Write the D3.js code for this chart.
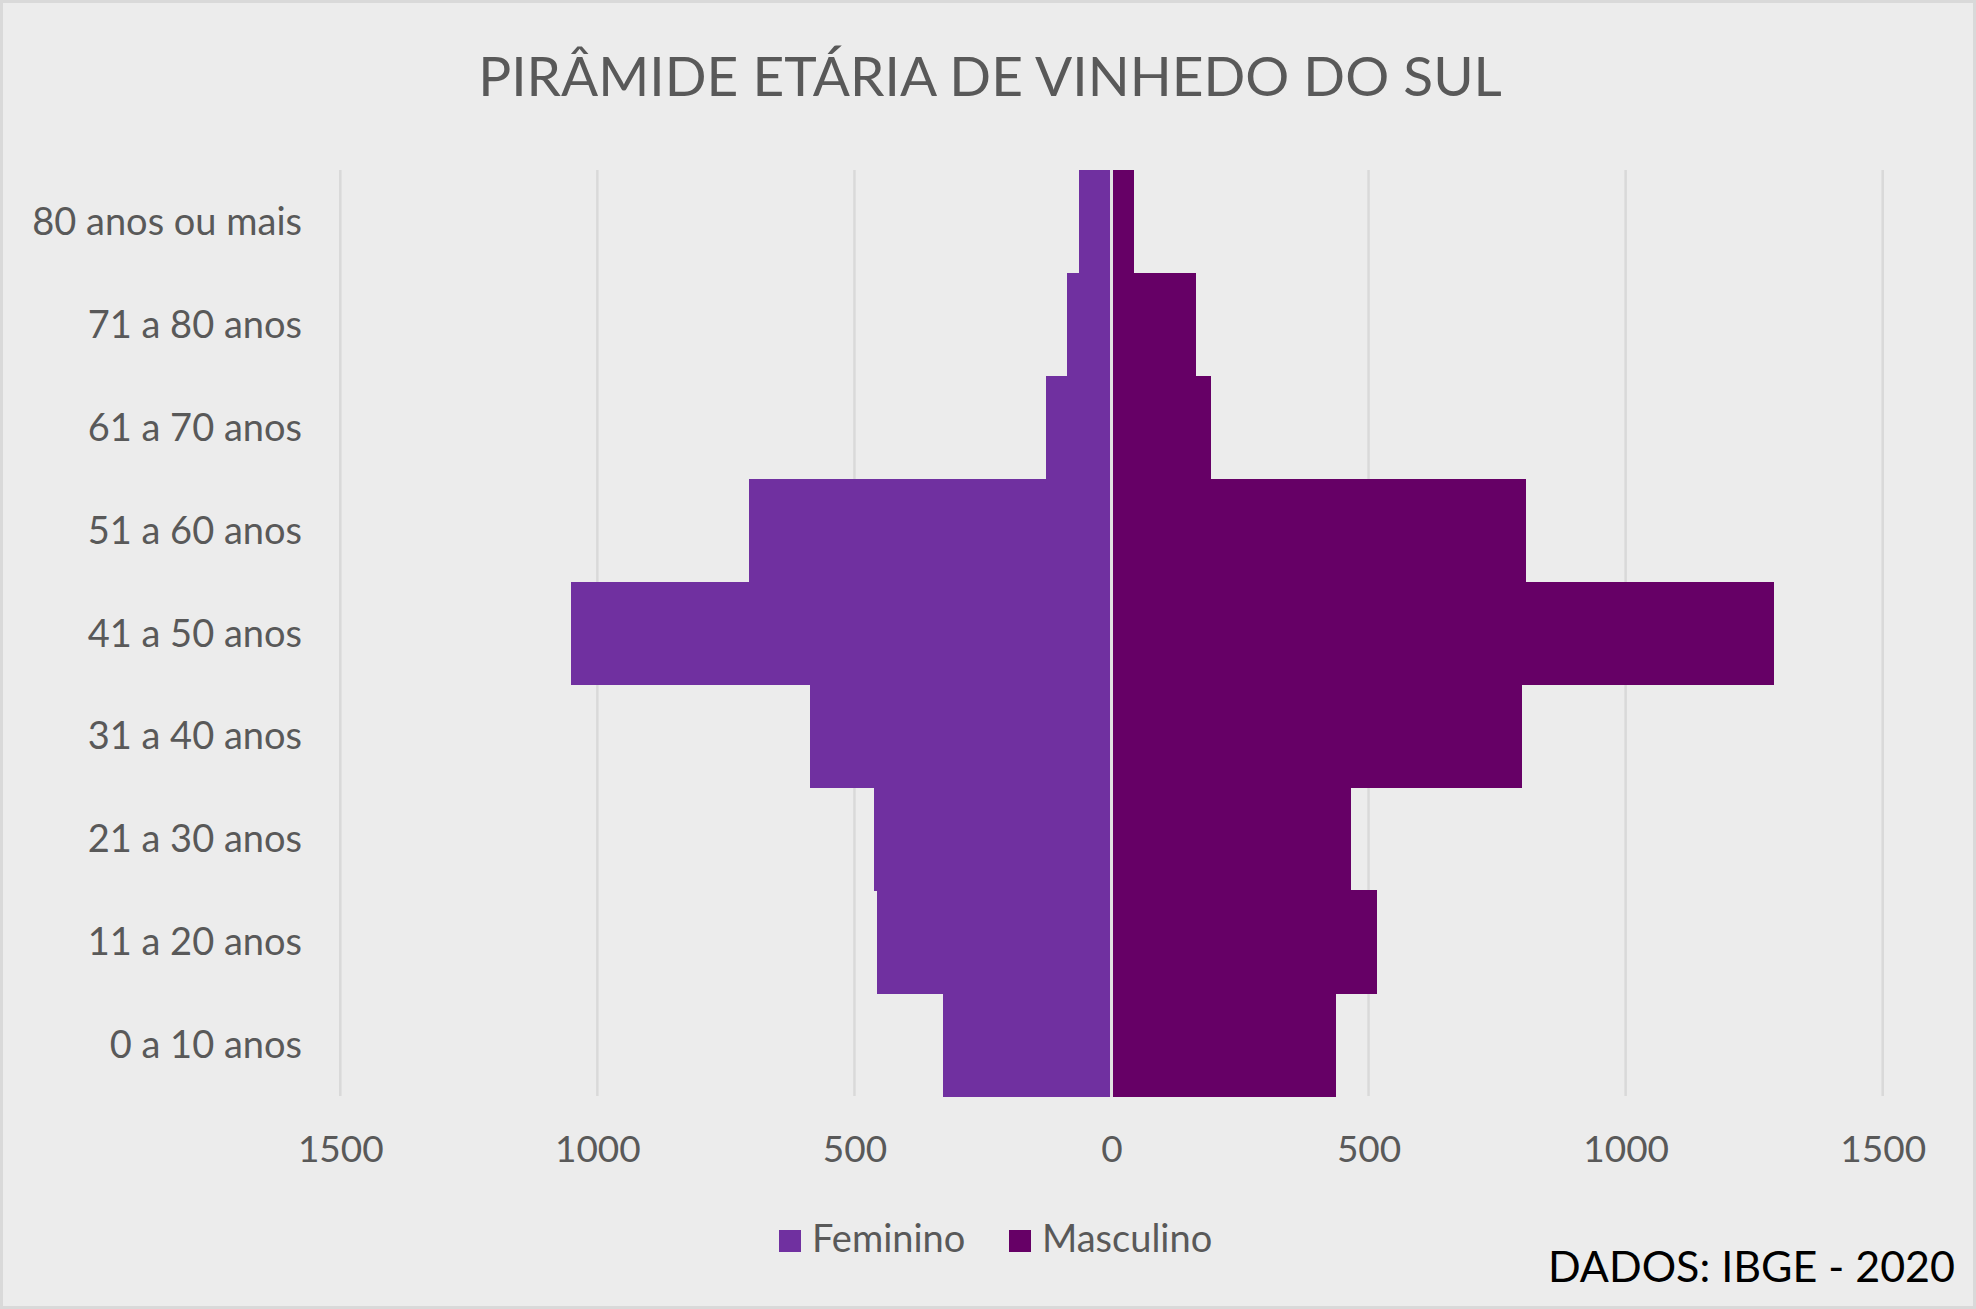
<!DOCTYPE html>
<html>
<head>
<meta charset="utf-8">
<script src="https://cdn.jsdelivr.net/npm/d3@7"></script>
<style>
  html, body { margin: 0; padding: 0; background: #ececec; }
  svg { display: block; }
  text { font-family: Lato, "Open Sans", sans-serif; }
</style>
</head>
<body>
<svg id="chart" width="1976" height="1309"></svg>
<script>
const categories = ["80 anos ou mais", "71 a 80 anos", "61 a 70 anos", "51 a 60 anos", "41 a 50 anos", "31 a 40 anos", "21 a 30 anos", "11 a 20 anos", "0 a 10 anos"];
const feminino = [64, 86, 127, 706, 1052, 586, 461, 456, 328];
const masculino = [44, 164, 194, 806, 1289, 799, 466, 517, 436];
const tickValues = [-1500, -1000, -500, 0, 500, 1000, 1500];
const seriesNames = ["Feminino", "Masculino"];
const colors = ["#7030a0", "#660066"];

const W = 1976, H = 1309;
const svg = d3.select("#chart");

svg.append("rect").attr("x", 1.5).attr("y", 1.5).attr("width", W - 3).attr("height", H - 3)
  .attr("fill", "#ececec").attr("stroke", "#d9d9d9").attr("stroke-width", 3);

const x = d3.scaleLinear().domain([-1500, 1500]).range([340.3, 1882.7]);
const y = d3.scaleBand().domain(categories).range([170, 1096]).padding(0);

// gridlines
svg.append("g").selectAll("line").data(tickValues.filter(d => d !== 0)).join("line")
  .attr("x1", d => x(d)).attr("x2", d => x(d))
  .attr("y1", 170).attr("y2", 1096)
  .attr("stroke", "#d9d9d9").attr("stroke-width", 2.5);

// bars
svg.append("g").attr("shape-rendering", "crispEdges").selectAll("rect").data(categories).join("rect")
  .attr("x", (d, i) => x(-feminino[i]))
  .attr("width", (d, i) => x(0) - x(-feminino[i]))
  .attr("y", d => y(d)).attr("height", y.bandwidth() + 1)
  .attr("fill", colors[0]);
svg.append("g").attr("shape-rendering", "crispEdges").selectAll("rect").data(categories).join("rect")
  .attr("x", x(0))
  .attr("width", (d, i) => x(masculino[i]) - x(0))
  .attr("y", d => y(d)).attr("height", y.bandwidth() + 1)
  .attr("fill", colors[1]);

// zero axis line
svg.append("line").attr("x1", x(0)).attr("x2", x(0)).attr("y1", 170).attr("y2", 1097)
  .attr("stroke", "#e2e2e2").attr("stroke-width", 3);

// y labels
const yAxis = svg.append("g").attr("transform", "translate(302,0)")
  .call(d3.axisLeft(y).tickSize(0).tickPadding(0));
yAxis.select(".domain").remove();
yAxis.selectAll("text").attr("font-size", 38).attr("fill", "#595959")
  .attr("font-family", "Lato, sans-serif").attr("dy", null)
  .attr("y", 13.5);

// x labels
const xAxis = svg.append("g").attr("transform", "translate(0,1162)")
  .call(d3.axisBottom(x).tickValues(tickValues).tickFormat(d => Math.abs(d)).tickSize(0).tickPadding(0));
xAxis.select(".domain").remove();
xAxis.selectAll("text").attr("font-size", 37).attr("fill", "#595959")
  .attr("font-family", "Lato, sans-serif").attr("dy", null).attr("y", 0);

// title
svg.append("text").attr("x", 990).attr("y", 96).attr("text-anchor", "middle")
  .attr("font-size", 55).attr("fill", "#595959").text("PIRÂMIDE ETÁRIA DE VINHEDO DO SUL");

// legend
const legendX = [779, 1009];
const lg = svg.append("g").selectAll("g").data(seriesNames).join("g")
  .attr("transform", (d, i) => `translate(${legendX[i]},1230)`);
lg.append("rect").attr("width", 22).attr("height", 22).attr("fill", (d, i) => colors[i]);
lg.append("text").attr("x", 33).attr("y", 22).attr("font-size", 38).attr("fill", "#595959").text(d => d);

// source
svg.append("text").attr("x", 1955).attr("y", 1282).attr("text-anchor", "end")
  .attr("font-size", 43).attr("fill", "#000").text("DADOS: IBGE - 2020");
</script>
</body>
</html>
